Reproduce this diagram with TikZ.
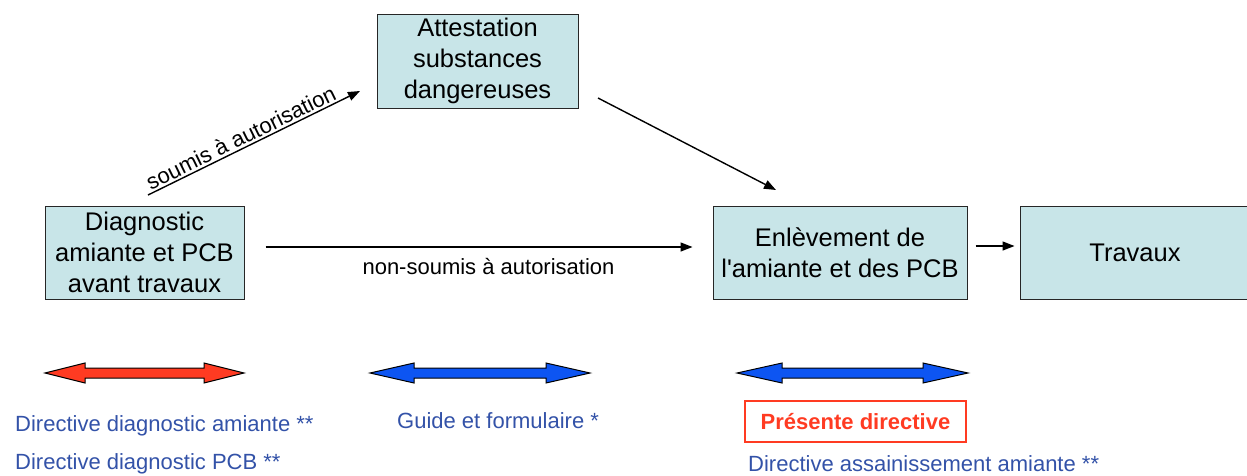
\documentclass[tikz,border=0pt]{standalone}
\usepackage{fontspec}
\setmainfont{Liberation Sans}
\usetikzlibrary{arrows.meta}
\definecolor{boxfill}{HTML}{C8E5E8}
\definecolor{txtblue}{HTML}{3352A8}
\definecolor{txtred}{HTML}{FF3B22}
\definecolor{arrred}{HTML}{FF3B22}
\definecolor{arrblue}{HTML}{0D55F2}
\newcommand\fatdarrow[5]{%
  \filldraw[fill=#5,draw=black,line width=1pt,line join=miter]
    (#1,#3) -- ({#1+#4},{#3-10}) -- ({#1+#4},{#3-5}) -- ({#2-#4},{#3-5})
    -- ({#2-#4},{#3-10}) -- (#2,#3) -- ({#2-#4},{#3+10}) -- ({#2-#4},{#3+5})
    -- ({#1+#4},{#3+5}) -- ({#1+#4},{#3+10}) -- cycle;}
\begin{document}
\begin{tikzpicture}[x=1pt,y=-1pt,
  box/.style={draw=black!85,line width=1pt,fill=boxfill,inner sep=0pt,align=center,
    font=\fontsize{25.5}{31}\selectfont},
  conn/.style={line width=1.4pt,-{Triangle[length=12pt,width=9pt]}},
  lbl/.style={font=\fontsize{22}{26}\selectfont,inner sep=2pt},
  bluetxt/.style={font=\fontsize{22}{26}\selectfont,text=txtblue,inner sep=0pt,anchor=base west}]
\useasboundingbox (0,0) rectangle (1247,475);
\node[box,minimum width=201pt,minimum height=94pt] (att) at (477.5,61)
  {Attestation\\substances\\dangereuses};
\node[box,minimum width=199pt,minimum height=93pt] (diag) at (144.5,252.5)
  {Diagnostic\\amiante et PCB\\avant travaux};
\node[box,minimum width=254pt,minimum height=93pt] (enl) at (840,252.5)
  {Enlèvement de\\l\textquotesingle amiante et des PCB};
\node[box,minimum width=230pt,minimum height=93pt] (trav) at (1135,252.5) {Travaux};
% connectors
\coordinate (s1) at (148,195);
\coordinate (s2) at (360,91);
\draw[conn] (s1) -- node[lbl,sloped,above,pos=0.46] {soumis à autorisation} (s2);
\draw[conn,shorten <=21pt,shorten >=20pt] ([yshift=5.5pt]diag.east) --
  node[lbl,below=9pt,xshift=10pt] {non-soumis à autorisation} ([yshift=5.5pt]enl.west);
\coordinate (a1) at (598,98);
\coordinate (a2) at (776,190);
\draw[conn] (a1) -- (a2);
\draw[conn,shorten <=8pt,shorten >=5pt] ([yshift=6.5pt]enl.east) -- ([yshift=6.5pt]trav.west);
% fat double arrows
\fatdarrow{45}{244}{373}{40}{arrred}
\fatdarrow{370}{590}{373}{44}{arrblue}
\fatdarrow{737}{968}{373}{45}{arrblue}
% texts
\node[bluetxt] (t1) at (15,431.5) {Directive diagnostic amiante **};
\node[bluetxt] (t2) at (15,469) {Directive diagnostic PCB **};
\node[bluetxt] (t3) at (397,428) {Guide et formulaire *};
\node[draw=txtred,line width=1.2pt,minimum width=221pt,minimum height=41pt,inner sep=0pt,
  text=txtred,font=\fontsize{22}{26}\selectfont\bfseries] (pres) at (855.5,421.5) {Présente directive};
\node[bluetxt] (t4) at (748,471) {Directive assainissement amiante **};
\end{tikzpicture}
\end{document}
